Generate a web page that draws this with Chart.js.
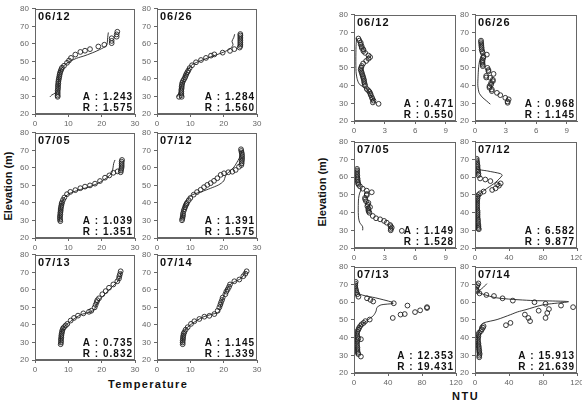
<!DOCTYPE html>
<html lang="en">
<head>
  <meta charset="UTF-8" />
  <title>Temperature and NTU profiles</title>
  <script src="https://cdn.jsdelivr.net/npm/chart.js"></script>
  <style>
    body {
      margin: 0;
      background: #fff;
      font-family: "Liberation Sans", Arial, sans-serif;
    }
    #page {
      position: relative;
      width: 582px;
      height: 413px;
      overflow: hidden;
    }
    #page canvas {
      position: absolute;
    }
    .axis-title {
      position: absolute;
      font-weight: bold;
      font-size: 11px;
      color: #111;
      white-space: nowrap;
    }
    .rotated {
      transform: translate(-50%, -50%) rotate(-90deg);
    }
  </style>
</head>
<body>
<div id="page">
  <div class="axis-title rotated" style="left:8px; top:186px;">Elevation (m)</div>
  <div class="axis-title rotated" style="left:322px; top:192px;">Elevation (m)</div>
  <div class="axis-title" style="left:108px; top:378px; letter-spacing:1.3px;">Temperature</div>
  <div class="axis-title" style="left:452px; top:390px; letter-spacing:1.5px;">NTU</div>
</div>

<script>
  // ---- data: [value, elevation (m)] ----
  // temperature, observed (circles) and simulated (line)
  const temp0612Obs = [[6.8,29.8],[6.8,30.5],[6.8,31.5],[6.8,32.5],[6.8,33.5],[6.9,34.5],[6.9,35.5],[6.9,36.5],[7,37.5],[7,38.5],[7.1,39.5],[7.2,40.5],[7.3,41.5],[7.4,42.5],[7.5,43.5],[7.7,44.5],[7.9,45.5],[8.1,46.4],[8.7,47.5],[9.6,49.2],[10.2,50.5],[10.8,52],[12.1,53.9],[13.6,55.4],[15,56.1],[16.5,57],[19,58.5],[20.8,59.5],[23,60.4],[23,61.7],[23,63.2],[24.5,64.1],[24.5,65.4],[24.7,66.9]];
  const temp0612Sim = [[4.5,29.8],[5,30.8],[6,31.8],[6.8,33],[7,36],[7.1,40],[7.3,43],[7.8,45.5],[8.8,47.8],[10.5,50],[12.5,51.8],[15,53.3],[18,55.5],[20.5,57.8],[21.5,59.2],[21.7,61],[21.8,63.5],[22,66.5]];
  const temp0626Obs = [[6.6,29.8],[7.4,29.8],[7.3,30.8],[7.3,31.8],[7.3,32.8],[7.3,33.8],[7.4,34.8],[7.4,35.8],[7.5,36.8],[7.6,37.8],[7.8,38.8],[8.1,39.8],[8.4,40.8],[8.6,41.8],[8.8,42.8],[9.1,43.8],[9.4,44.8],[9.8,46.2],[10.5,47.8],[11.7,49.5],[13.2,50.8],[14.7,52],[16.2,53.3],[17.2,54],[19.7,55],[21.9,56],[23.2,57],[24.8,57.9],[25,58.8],[25,59.8],[25,60.8],[25,61.8],[25,62.8],[25,63.8],[25,64.8],[25,65.6]];
  const temp0626Sim = [[6,29.8],[6.8,33],[7.5,37],[8.2,41],[9.3,45.5],[10.7,48.3],[13,50.3],[16,52.5],[20,55.3],[22,57.3],[22.8,59.5],[22.5,61.5],[23,63.5],[23.3,65.5]];
  const temp0705Obs = [[7.6,29.6],[7.5,30.5],[7.5,31.5],[7.5,32.5],[7.6,33.5],[7.6,34.5],[7.7,35.5],[7.7,36.5],[7.8,37.5],[7.9,38.5],[8,39.5],[8.1,40.3],[8.4,41.7],[8.8,43.1],[9.6,45],[10.6,46.3],[12.1,47.3],[13.6,48.4],[15,49.3],[16.5,50],[18,51],[19.5,52.5],[21,54.4],[22.3,55.7],[23.5,57.2],[24.8,58],[25.7,57.5],[25.8,58.5],[25.9,59.5],[26,60.5],[26,61.5],[26,62.5],[26,63.5],[26.1,64.5]];
  const temp0705Sim = [[7.3,29.5],[7.4,33],[7.6,37],[8,40],[9,43.5],[10.5,45.5],[13,47.3],[16,49],[19,51.3],[21.5,54.3],[23,57],[23.4,60],[23.6,62.5],[24,64.5]];
  const temp0712Obs = [[7.5,30.1],[7.6,31],[7.7,32],[7.8,33],[7.8,34],[8,35.4],[8.2,36.5],[8.4,37.5],[8.6,38.5],[8.8,39.3],[9,40],[9.5,41.5],[10,42.8],[11,44.7],[12,46.2],[13.1,47.5],[14.1,49],[15.1,50.3],[16.1,51.3],[17.1,52.6],[18.1,54.1],[19.1,56],[20.1,56.9],[21.4,57.5],[22.6,57.8],[23.6,58.8],[24.6,60.6],[25.3,61.6],[25.4,62.6],[25.4,63.6],[25.5,64.6],[25.5,65.6],[25.5,66.6],[25.5,67.6],[25.4,68.6],[25.3,69.6],[25.2,70.6]];
  const temp0712Sim = [[7.4,30.5],[8,37],[8.6,41],[10.5,44.5],[13.5,46.5],[16,48.3],[18.5,50.3],[20,52.5],[20.6,55.5],[21.6,57.8],[23.1,60.5],[24.6,65.3],[25.6,70]];
  const temp0713Obs = [[7.7,29],[7.8,30],[7.8,31],[7.8,32],[7.9,33],[7.9,34],[8,35],[8.1,36],[8.2,37],[8.4,38],[8.7,38.7],[9.2,39.7],[9.7,40.6],[10.7,42.5],[11.7,44],[12.9,45.3],[14.5,46.6],[16.2,47.5],[16.9,48.1],[17.9,50],[18.2,51.5],[18.5,53],[18.7,54.1],[19.2,55.2],[20.2,57.5],[21.2,59.3],[22.2,61.2],[23.5,63.1],[24.7,64.9],[25.2,66.5],[25.3,67.8],[25.5,69],[25.7,70.6]];
  const temp0713Sim = [[7.5,29],[8,36.9],[9.2,39.7],[11.2,42.8],[13.7,45.8],[16.2,47.2],[17.7,48.5],[18.7,52.8],[20.2,56],[21.7,59],[23.7,62.7],[25.2,65.9],[25.9,70.6]];
  const temp0714Obs = [[7.7,29],[7.7,30],[7.7,31],[7.8,32],[7.8,33],[7.9,34],[8,35],[8.2,35.9],[8.6,37.3],[9.2,38.7],[10.2,40.6],[11.2,42.1],[12.7,43.4],[14.2,44.7],[15.7,45.2],[17.2,46.2],[18.2,48.1],[18.7,50],[19,51.5],[19.2,52.8],[19.5,54.2],[19.7,55.6],[20.5,57.5],[20.8,59],[21.2,60.3],[21.6,61.7],[21.9,63.1],[23.2,64.9],[24.7,65.9],[25.9,67.8],[26.5,69.2],[26.9,70.6]];
  const temp0714Sim = [[7.5,29],[7.9,35],[8.7,37.8],[10.7,41],[13.7,44.4],[16.7,46.2],[18.5,47.2],[19.2,51.8],[20.2,57.5],[21.5,62.2],[23.2,64.6],[25.2,66.5],[26.7,70.6]];

  // NTU, observed (circles) and simulated (line)
  const ntu0612Obs = [[0.43,66.6],[0.53,65.4],[0.66,64.2],[0.66,63.2],[0.76,62.2],[0.76,61.3],[0.92,60.4],[0.92,59.5],[1.09,58.5],[1.42,57],[1.58,56.1],[1.42,55.2],[1.19,53.9],[0.9,52.5],[0.76,51.1],[0.7,50.1],[0.66,49.2],[0.7,48.3],[0.76,47.4],[0.8,46.4],[0.86,45.5],[0.9,44.6],[0.95,43.7],[0.99,42.8],[1,41.8],[1.05,40.9],[1.09,39.9],[1.25,38.1],[1.4,37.3],[1.52,36.5],[1.6,35.5],[1.65,34.6],[1.75,33.4],[1.8,32.5],[1.91,31.5],[1.85,30.5],[2.41,29.7]];
  const ntu0612Sim = [[0.25,67],[0.2,62],[0.18,55],[0.2,48],[0.3,44],[0.5,41],[0.9,39.3],[1.3,38],[1.5,36],[1.7,34],[1.9,32],[2.1,30]];
  const ntu0626Obs = [[0.59,65.4],[0.59,64.5],[0.62,63.5],[0.62,62.5],[0.65,61.5],[0.65,60.5],[0.7,59.5],[0.75,58.5],[1.16,57.5],[0.83,56.5],[0.8,55.6],[0.75,54.5],[0.73,53.5],[0.73,52.8],[0.76,51.8],[0.76,51],[1.22,50],[1.32,48.8],[1.32,48.1],[1.82,46.6],[1.1,45.5],[1.1,44.6],[1.49,44.4],[1.75,43.3],[1.75,42.5],[1.58,41.5],[1.58,40.6],[1.42,39.7],[1.42,38.8],[1.65,37.8],[1.65,36.9],[2.15,35.9],[2.48,34.6],[2.97,33.1],[3.3,32.2],[3.2,31],[3.2,30.3]];
  const ntu0626Sim = [[0.9,58],[0.6,56.5],[0.45,54],[0.35,50],[0.3,45],[0.28,40],[0.4,36],[0.7,33.5],[1.1,31.5],[1.5,29.5]];
  const ntu0705Obs = [[0.3,64.7],[0.3,63.8],[0.3,62.9],[0.3,62],[0.32,61],[0.32,60.1],[0.35,59.2],[0.35,58.3],[0.38,57.4],[0.4,56.5],[0.45,55.8],[0.59,54.8],[0.85,53.5],[1.25,52.4],[1.74,51.5],[1.25,50.5],[1.25,49.8],[1.08,48.3],[1.1,47.4],[1.18,46.4],[1.41,45.5],[1.35,44.5],[1.31,43.6],[1.57,43.1],[1.41,42.3],[1.41,41.4],[1.45,40.6],[1.51,39.9],[1.84,38.1],[2.16,36.8],[2.56,36.2],[2.95,35.3],[3.21,34.3],[3.54,33],[3.6,32.3],[3.7,31.5],[3.6,30.8],[3.6,30],[4.69,29.7]];
  const ntu0705Sim = [[0.75,53.5],[0.55,51],[0.45,48],[0.42,44],[0.42,40],[0.45,37],[0.55,34.5],[0.85,32],[0.85,30]];
  const ntu0712Obs = [[2,70.4],[2,69.5],[2.5,68.5],[2.5,67.5],[3,66.6],[3,65.7],[3,64.8],[3.5,63.9],[3.5,63],[4,62],[4,61.1],[6,59.3],[12.1,58.7],[18.1,57.8],[26.2,55.9],[28.2,55.2],[30.2,56.5],[24.2,53.7],[20.2,52.8],[10.1,51.9],[6,50.9],[4,50],[3,49],[3,48],[2.5,47],[2.5,46],[2.5,45],[2.5,44],[2.5,43],[2.5,42],[3,41],[3,40],[3,39],[3,38],[3,37],[3.5,36],[3.5,35],[3.5,34],[4,33],[4,32],[4,31.2],[4.5,30.6]];
  const ntu0712Sim = [[1,70],[1,65],[15,63.5],[30,62],[32,61],[24,57],[15,54],[8,51.5],[3,49.5],[2,45],[2,40],[2,35],[2,30]];
  const ntu0713Obs = [[2,71.5],[1.5,70.5],[1.5,69.5],[1.5,68.5],[2,67.5],[2.5,66.5],[3,65.5],[4,64.5],[5.2,63.1],[15.3,62.2],[19.4,61.3],[22.6,60.4],[46.8,59.4],[62.9,58.1],[85.9,57.2],[85.9,56.7],[77.8,55.4],[71.8,54.4],[59.7,53.3],[54.8,53],[45.6,51.1],[18.5,50.2],[13.3,49.3],[11.3,48.3],[9,47.5],[7.3,46.5],[6,45.5],[5.2,44.6],[4,43.5],[3.5,42.5],[3.5,41.5],[4,40.5],[5,39.5],[8.1,39.1],[4,38.5],[3.5,37.5],[3.5,36.5],[3.5,35.5],[4,34.5],[4,33.5],[4,32.5],[4.5,31.5],[5,30.7],[8.1,29.3]];
  const ntu0713Sim = [[1,71],[1.5,66],[10,64],[25,62.5],[45,60],[46,59.3],[32,58.5],[27,57],[26,55],[23,52.5],[15,49.5],[7,46.5],[3,44],[2,40],[2.5,35],[3,30]];
  const ntu0714Obs = [[4,70.6],[3,69.6],[2,68.7],[1.2,67.5],[1.2,66.9],[2.8,66.3],[5.3,65],[13.4,64.1],[22.3,63.5],[32.4,62.2],[44.5,60.9],[70,60],[83,59.1],[101.2,58.1],[115.4,57.2],[87,56.1],[74.9,55.2],[85,53.9],[58.7,53],[83,51.1],[62.8,51.1],[64.8,49.3],[41.7,48.3],[36.4,47],[10.1,46.5],[9.3,45.6],[8.1,44.7],[7,43.7],[5,42.8],[4,41.8],[4,40.8],[3.5,39.8],[3.5,38.8],[3.5,37.8],[4,36.8],[4,35.8],[4.5,34.8],[4.5,33.8],[5,32.8],[5,31.8],[5.5,30.8],[5,29.8],[5,28.9]];
  const ntu0714Sim = [[14,70.5],[10,68.5],[5,66.5],[4,65.5],[25,62.5],[65,61],[110,60.3],[80,58.5],[60,55.8],[50,54.5],[42,53],[26,50.2],[10,48.3],[6,46.5],[5,43.7],[3,40],[3,35],[3,30]];

  const dates = ['06/12', '06/26', '07/05', '07/12', '07/13', '07/14'];
  const tempA = ['1.243', '1.284', '1.039', '1.391', '0.735', '1.145'];
  const tempR = ['1.575', '1.560', '1.351', '1.575', '0.832', '1.339'];
  const ntuA = ['0.471', '0.968', '1.149', '6.582', '12.353', '15.913'];
  const ntuR = ['0.550', '1.145', '1.528', '9.877', '19.431', '21.639'];

  const elevTicks = [20, 30, 40, 50, 60, 70, 80];
  const tempTicks = [0, 10, 20, 30];
  const ntuLowTicks = [0, 3, 6, 9];
  const ntuHighTicks = [0, 40, 80, 120];

  const tempObs = [temp0612Obs, temp0626Obs, temp0705Obs, temp0712Obs, temp0713Obs, temp0714Obs];
  const tempSim = [temp0612Sim, temp0626Sim, temp0705Sim, temp0712Sim, temp0713Sim, temp0714Sim];
  const ntuObs = [ntu0612Obs, ntu0626Obs, ntu0705Obs, ntu0712Obs, ntu0713Obs, ntu0714Obs];
  const ntuSim = [ntu0612Sim, ntu0626Sim, ntu0705Sim, ntu0712Sim, ntu0713Sim, ntu0714Sim];

  // ---- layout (plot-area boxes in page pixels) ----
  const tempCols = [35, 157], tempRows = [7, 131, 253], tempW = 100, tempH = 107;
  const ntuCols = [354, 475], ntuRows = [13, 140, 265], ntuW = 102, ntuH = 108;
  const Y_AXIS_W = 26, X_AXIS_H = 18, PAD_TOP = 6, PAD_RIGHT = 9;

  const INK = '#222';
  const FRAME = '#666';
  const TICK_FONT = { family: '"Liberation Sans", Arial, sans-serif', size: 8 };

  // draws the frame box, date label and A/R stats inside each panel
  const panelText = {
    id: 'panelText',
    afterDraw(chart, args, opts) {
      const { ctx, chartArea: ca } = chart;
      ctx.save();
      ctx.strokeStyle = FRAME;
      ctx.lineWidth = 1;
      ctx.strokeRect(Math.round(ca.left) + 0.5, Math.round(ca.top) + 0.5,
                     Math.round(ca.width) - 1, Math.round(ca.height) - 1);
      ctx.fillStyle = '#111';
      ctx.textBaseline = 'middle';
      ctx.letterSpacing = '1px';
      ctx.font = 'bold 11px "Liberation Sans", Arial, sans-serif';
      ctx.textAlign = 'left';
      ctx.fillText(opts.label, ca.left + 3, ca.top + 8);
      ctx.font = 'bold 10px "Liberation Sans", Arial, sans-serif';
      ctx.textAlign = 'right';
      ctx.fillText('A : ' + opts.a, ca.right - 2, ca.bottom - 17);
      ctx.fillText('R : ' + opts.r, ca.right - 2, ca.bottom - 6);
      ctx.restore();
    }
  };

  const toXY = pts => pts.map(p => ({ x: p[0], y: p[1] }));

  function makePanel(box, obs, sim, xMax, xTicks, label, a, r) {
    const canvas = document.createElement('canvas');
    canvas.width = box.w + Y_AXIS_W + PAD_RIGHT;
    canvas.height = box.h + PAD_TOP + X_AXIS_H;
    canvas.style.left = (box.x - Y_AXIS_W) + 'px';
    canvas.style.top = (box.y - PAD_TOP) + 'px';
    document.getElementById('page').appendChild(canvas);

    new Chart(canvas.getContext('2d'), {
      type: 'scatter',
      data: {
        datasets: [
          {
            data: toXY(obs),
            showLine: false,
            pointStyle: 'circle',
            pointRadius: 2.4,
            pointBorderWidth: 0.9,
            pointBorderColor: INK,
            pointBackgroundColor: 'rgba(255,255,255,0)'
          },
          {
            data: toXY(sim),
            showLine: true,
            pointRadius: 0,
            borderColor: INK,
            borderWidth: 0.9,
            tension: 0.25
          }
        ]
      },
      options: {
        responsive: false,
        animation: false,
        layout: { padding: { top: PAD_TOP, right: PAD_RIGHT, left: 0, bottom: 0 } },
        plugins: {
          legend: { display: false },
          tooltip: { enabled: false },
          panelText: { label, a, r }
        },
        scales: {
          x: {
            type: 'linear',
            min: 0,
            max: xMax,
            afterBuildTicks: s => { s.ticks = xTicks.map(v => ({ value: v })); },
            afterFit: s => { s.height = X_AXIS_H; },
            ticks: { font: TICK_FONT, color: '#666', padding: 2, maxRotation: 0 },
            grid: { drawOnChartArea: false, tickLength: 3, color: FRAME },
            border: { color: FRAME }
          },
          y: {
            type: 'linear',
            min: 20,
            max: 80,
            afterBuildTicks: s => { s.ticks = elevTicks.map(v => ({ value: v })); },
            afterFit: s => { s.width = Y_AXIS_W; },
            ticks: { font: TICK_FONT, color: '#666', padding: 3 },
            grid: { drawOnChartArea: false, tickLength: 3, color: FRAME },
            border: { color: FRAME }
          }
        }
      },
      plugins: [panelText]
    });
  }

  for (let i = 0; i < 6; i++) {
    const col = i % 2, row = Math.floor(i / 2);
    makePanel({ x: tempCols[col], y: tempRows[row], w: tempW, h: tempH },
              tempObs[i], tempSim[i], 30, tempTicks, dates[i], tempA[i], tempR[i]);
    const lowRange = i < 3;
    makePanel({ x: ntuCols[col], y: ntuRows[row], w: ntuW, h: ntuH },
              ntuObs[i], ntuSim[i], lowRange ? 10 : 120, lowRange ? ntuLowTicks : ntuHighTicks,
              dates[i], ntuA[i], ntuR[i]);
  }
</script>
</body>
</html>
